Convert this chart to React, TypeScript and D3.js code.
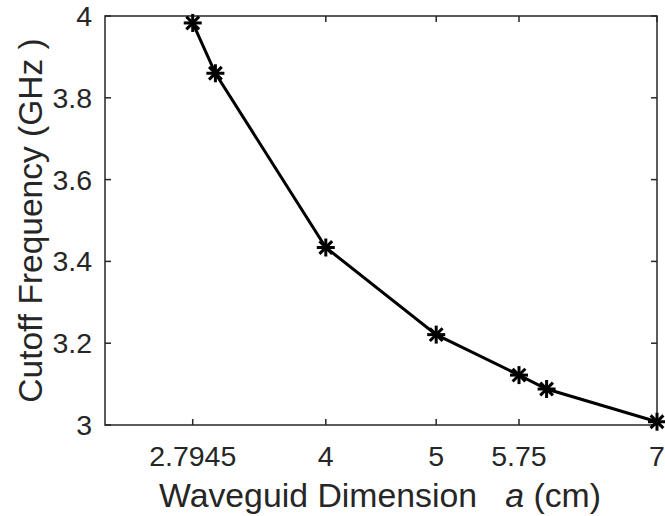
import React, { useRef, useEffect } from "react";
import * as d3 from "d3";

// waveguide width a (cm) vs cutoff frequency (GHz)
const dimensions = [2.7945, 3.0, 4, 5, 5.75, 6.0, 7];
const cutoffs = [3.983, 3.86, 3.434, 3.221, 3.122, 3.088, 3.008];
const xTicks = [2.7945, 4, 5, 5.75, 7];
const yTicks = [3, 3.2, 3.4, 3.6, 3.8, 4];

const W = 665;
const H = 516;

const App = () => {
  const svgRef = useRef<SVGSVGElement>(null);

  useEffect(() => {
    const svg = d3.select(svgRef.current);
    svg.selectAll("*").remove();

    const margin = { top: 16, right: 8, bottom: 91, left: 105 };
    const axisColor = "#262626";
    const font = "Arial, 'Liberation Sans', sans-serif";

    const x = d3.scaleLinear().domain([2, 7]).range([margin.left, W - margin.right]);
    const y = d3.scaleLinear().domain([3, 4]).range([H - margin.bottom, margin.top]);

    const g = svg.append("g");

    // box
    g.append("rect")
      .attr("x", x(2))
      .attr("y", y(4))
      .attr("width", x(7) - x(2))
      .attr("height", y(3) - y(4))
      .attr("fill", "none")
      .attr("stroke", axisColor)
      .attr("stroke-width", 1.5);

    // ticks (inward, mirrored)
    const tl = 6;
    xTicks.forEach((t) => {
      g.append("line")
        .attr("x1", x(t)).attr("x2", x(t))
        .attr("y1", y(3)).attr("y2", y(3) - tl)
        .attr("stroke", axisColor).attr("stroke-width", 1.5);
      g.append("line")
        .attr("x1", x(t)).attr("x2", x(t))
        .attr("y1", y(4)).attr("y2", y(4) + tl)
        .attr("stroke", axisColor).attr("stroke-width", 1.5);
      g.append("text")
        .attr("x", x(t))
        .attr("y", y(3) + 41)
        .attr("text-anchor", "middle")
        .attr("font-family", font)
        .attr("font-size", 28.5)
        .attr("fill", axisColor)
        .text(d3.format("")(t));
    });
    yTicks.forEach((t) => {
      g.append("line")
        .attr("x1", x(2)).attr("x2", x(2) + tl)
        .attr("y1", y(t)).attr("y2", y(t))
        .attr("stroke", axisColor).attr("stroke-width", 1.5);
      g.append("line")
        .attr("x1", x(7)).attr("x2", x(7) - tl)
        .attr("y1", y(t)).attr("y2", y(t))
        .attr("stroke", axisColor).attr("stroke-width", 1.5);
      g.append("text")
        .attr("x", x(2) - 13)
        .attr("y", y(t) + 10)
        .attr("text-anchor", "end")
        .attr("font-family", font)
        .attr("font-size", 28.5)
        .attr("fill", axisColor)
        .text(d3.format("")(t));
    });

    // axis labels
    const xl = g.append("text")
      .attr("x", 380)
      .attr("y", 507)
      .attr("text-anchor", "middle")
      .attr("font-family", font)
      .attr("font-size", 33.8)
      .attr("fill", axisColor)
      .attr("xml:space", "preserve");
    xl.append("tspan").text("Waveguid Dimension   ");
    xl.append("tspan").attr("font-style", "italic").text("a");
    xl.append("tspan").text(" (cm)");

    g.append("text")
      .attr("transform", `translate(42,${(y(3) + y(4)) / 2}) rotate(-90)`)
      .attr("text-anchor", "middle")
      .attr("font-family", font)
      .attr("font-size", 33.5)
      .attr("fill", axisColor)
      .text("Cutoff Frequency (GHz )");

    const pts = dimensions.map((d, i) => [x(d), y(cutoffs[i])] as [number, number]);

    g.append("path")
      .attr("d", d3.line()(pts))
      .attr("fill", "none")
      .attr("stroke", "#000")
      .attr("stroke-width", 3);

    // asterisk markers
    const r = 9;
    pts.forEach(([px, py]) => {
      [0, 45, 90, 135].forEach((a) => {
        const rad = (a * Math.PI) / 180;
        g.append("line")
          .attr("x1", px - r * Math.cos(rad)).attr("y1", py - r * Math.sin(rad))
          .attr("x2", px + r * Math.cos(rad)).attr("y2", py + r * Math.sin(rad))
          .attr("stroke", "#000")
          .attr("stroke-width", 3);
      });
    });
  }, []);

  return (
    <div style={{ position: "absolute", left: 0, top: 0 }}>
      <svg ref={svgRef} width={W} height={H} style={{ display: "block", background: "#fff" }} />
    </div>
  );
};

export default App;
